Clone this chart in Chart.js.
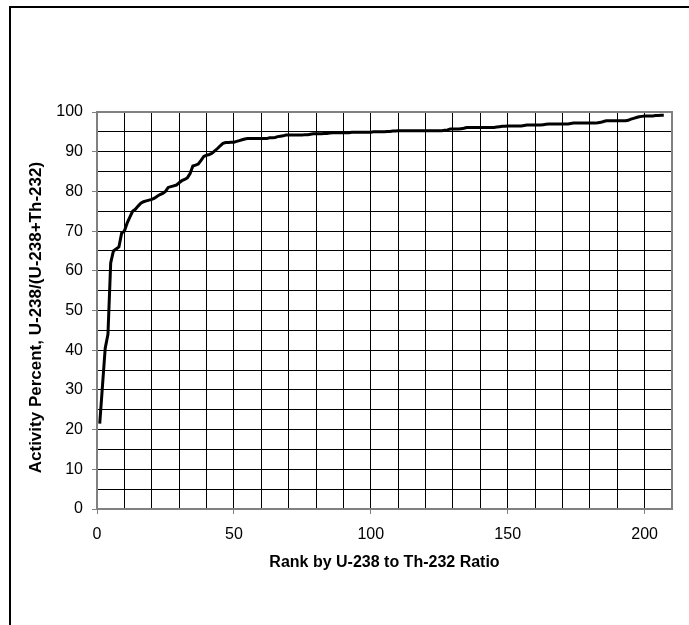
<!DOCTYPE html>
<html>
<head>
<meta charset="utf-8">
<script src="https://cdn.jsdelivr.net/npm/chart.js@4"></script>
<style>
  html, body { margin: 0; padding: 0; background: #fff; }
  #wrap { width: 689px; height: 625px; }
</style>
</head>
<body>
<div id="wrap"><canvas id="chart" width="689" height="625"></canvas></div>
<script>
// Activity percent for each sample, sorted by rank (rank = position + 1)
const activityPercent = [
  21.5, 31, 40.5, 44, 62, 65, 65.5, 66, 69.5, 70,
  72, 73.5, 75, 75.5, 76.3, 77, 77.4, 77.6, 77.8, 78,
  78.3, 78.8, 79.2, 79.5, 80, 81, 81.2, 81.4, 81.6, 82.2,
  82.7, 83, 83.4, 84.5, 86.4, 86.6, 86.9, 87.8, 88.8, 89.1,
  89.3, 89.6, 90.2, 90.8, 91.5, 92.1, 92.3, 92.3, 92.4, 92.4,
  92.6, 92.8, 93.0, 93.2, 93.3, 93.3, 93.3, 93.3, 93.3, 93.3,
  93.3, 93.3, 93.5, 93.5, 93.6, 93.8, 93.9, 94.0, 94.2, 94.2,
  94.2, 94.2, 94.2, 94.2, 94.2, 94.3, 94.3, 94.4, 94.5, 94.5,
  94.5, 94.5, 94.6, 94.6, 94.7, 94.8, 94.8, 94.8, 94.8, 94.8,
  94.8, 94.8, 94.9, 94.9, 94.9, 94.9, 94.9, 94.9, 94.9, 94.9,
  95.0, 95.0, 95.0, 95.0, 95.0, 95.1, 95.1, 95.2, 95.2, 95.3,
  95.3, 95.3, 95.3, 95.3, 95.3, 95.3, 95.3, 95.3, 95.3, 95.3,
  95.3, 95.3, 95.3, 95.3, 95.3, 95.3, 95.4, 95.5, 95.7, 95.7,
  95.7, 95.7, 95.8, 95.9, 96.1, 96.1, 96.1, 96.1, 96.1, 96.1,
  96.1, 96.1, 96.1, 96.1, 96.1, 96.2, 96.3, 96.4, 96.4, 96.5,
  96.5, 96.5, 96.5, 96.5, 96.5, 96.6, 96.7, 96.7, 96.7, 96.7,
  96.7, 96.7, 96.8, 96.9, 97.0, 97.0, 97.0, 97.0, 97.0, 97.0,
  97.0, 97.0, 97.1, 97.2, 97.2, 97.2, 97.2, 97.2, 97.2, 97.2,
  97.2, 97.2, 97.3, 97.4, 97.6, 97.8, 97.8, 97.8, 97.8, 97.8,
  97.8, 97.8, 97.8, 97.9, 98.2, 98.4, 98.6, 98.8, 98.9, 99.0,
  99.0, 99.0, 99.0, 99.1, 99.1, 99.2, 99.2
];

const xTitle = 'Rank by U-238 to Th-232 Ratio';
// trailing spaces nudge the rotated title a little down, as in the original
const yTitle = 'Activity Percent, U-238/(U-238+Th-232)   ';
const xLabelStep = 50;
const yLabelStep = 10;

const FONT = '"Liberation Sans", Arial, sans-serif';

// Excel-like frame: gray box round the plot area, black outer chart frame
const framePlugin = {
  id: 'frame',
  beforeDatasetsDraw(chart) {
    const { ctx, chartArea: a } = chart;
    ctx.save();
    ctx.strokeStyle = '#808080';
    ctx.lineWidth = 2;
    ctx.strokeRect(a.left, a.top, a.right - a.left, a.bottom - a.top);
    ctx.restore();
  },
  afterDraw(chart) {
    const ctx = chart.ctx;
    ctx.save();
    ctx.fillStyle = '#000';
    ctx.fillRect(9, 6, 680, 2);
    ctx.fillRect(9, 6, 2, 619);
    ctx.restore();
  }
};

const points = activityPercent.map((v, i) => ({ x: i + 1, y: v }));

new Chart(document.getElementById('chart'), {
  type: 'line',
  data: {
    datasets: [{
      data: points,
      borderColor: '#000',
      borderWidth: 3,
      pointRadius: 0,
      tension: 0,
      fill: false
    }]
  },
  options: {
    responsive: false,
    animation: false,
    layout: { padding: { left: 20, top: 112, right: 17, bottom: 0 } },
    plugins: {
      legend: { display: false },
      tooltip: { enabled: false }
    },
    scales: {
      x: {
        type: 'linear',
        min: 0,
        max: 210,
        afterFit(scale) { scale.height = 116; },
        ticks: {
          stepSize: 10,
          autoSkip: false,
          maxRotation: 0,
          padding: 11,
          color: '#000',
          font: { family: FONT, size: 16 },
          callback: v => (v % xLabelStep === 0 ? v : '')
        },
        grid: {
          color: '#000',
          lineWidth: 1,
          tickLength: 5,
          tickColor: c => (c.tick && c.tick.value % xLabelStep === 0 ? '#808080' : 'rgba(0,0,0,0)')
        },
        border: { color: '#808080', width: 2 },
        title: {
          display: true,
          text: xTitle,
          color: '#000',
          font: { family: FONT, size: 16, weight: 'bold' },
          padding: { top: 0, bottom: 53 }
        }
      },
      y: {
        min: 0,
        max: 100,
        afterFit(scale) { scale.width = 77; },
        ticks: {
          stepSize: 5,
          autoSkip: false,
          padding: 9,
          color: '#000',
          font: { family: FONT, size: 16 },
          callback: v => (v % yLabelStep === 0 ? v : '')
        },
        grid: {
          color: '#000',
          lineWidth: 1,
          tickLength: 5,
          tickColor: c => (c.tick && c.tick.value % yLabelStep === 0 ? '#808080' : 'rgba(0,0,0,0)')
        },
        border: { color: '#808080', width: 2 },
        title: {
          display: true,
          text: yTitle,
          color: '#000',
          font: { family: FONT, size: 17, weight: 'bold' },
          padding: { top: 6, bottom: 0 }
        }
      }
    }
  },
  plugins: [framePlugin]
});
</script>
</body>
</html>
